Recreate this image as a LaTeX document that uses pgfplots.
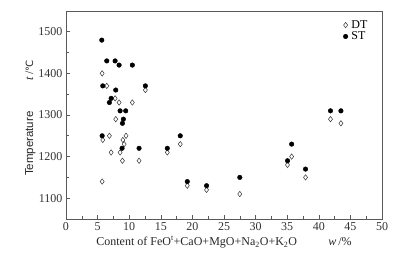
\documentclass[border=0pt]{standalone}
\usepackage{fontspec}
\setmainfont{Liberation Serif}
\setsansfont{Liberation Sans}
\newfontfamily\dejavu{DejaVu Sans}
\usepackage{pgfplots}
\pgfplotsset{compat=1.18}
\begin{document}
\begin{tikzpicture}
\begin{axis}[
  scale only axis,
  width=316pt, height=208pt,
  xmin=0, xmax=50, ymin=1050, ymax=1550,
  xtick={0,5,...,50}, ytick={1100,1200,...,1500},
  minor x tick num=1, minor y tick num=1,
  tick align=inside, xtick pos=left, ytick pos=left,
  major tick length=4pt, minor tick length=2.5pt,
  axis line style={gray!70!black, line width=0.6pt},
  every tick/.style={gray!70!black, line width=0.6pt},
  /pgf/number format/assume math mode=true,
  /pgf/number format/1000 sep={},
  tick label style={font=\fontsize{12}{14}\selectfont, text=black!80},
  label style={font=\fontsize{12}{14}\selectfont, text=black!85},
  xlabel={Content of FeO\textsuperscript{t}+CaO+MgO+Na\textsubscript{2}O+K\textsubscript{2}O\hspace{2.6em}\textit{w}\,/\%},
  ylabel={{\sffamily\fontsize{11.5}{13}\selectfont Temperature}\hspace{2.6em}\textit{t}\,/{\dejavu\fontsize{10}{11}\selectfont ℃}},
  xlabel style={yshift=1pt},
  ylabel style={yshift=-4pt, xshift=-3pt},
  legend style={draw=none, fill=none, at={(0.975,0.975)}, anchor=north east, font=\fontsize{12}{14}\selectfont, row sep=-2pt, nodes={inner xsep=3.5pt}},
  legend cell align=left,
]
\addplot[only marks, mark=diamond, mark size=2.7pt, mark options={draw=black!80, line width=0.5pt, fill=white}] coordinates {
(5.72,1400) (6.45,1370) (7.77,1340) (8.40,1330) (10.50,1330) (12.56,1360)
(7.87,1290) (5.82,1240) (6.87,1250) (7.14,1210) (9.50,1250) (9.00,1240)
(9.20,1230) (8.56,1210) (8.93,1190) (11.56,1190) (5.72,1140) (16.03,1210)
(18.08,1230) (19.19,1130) (22.24,1120) (27.5,1110) (35.05,1180) (35.7,1200)
(37.9,1150) (41.85,1290) (43.5,1280)
};
\addlegendentry{DT}
\addplot[only marks, mark=*, mark size=2.3pt, mark options={draw=black, fill=black}] coordinates {
(5.66,1480) (6.45,1430) (7.77,1430) (8.40,1420) (10.50,1420) (5.82,1370)
(7.87,1360) (7.14,1340) (6.87,1330) (8.56,1310) (9.45,1310) (9.08,1290)
(8.93,1280) (12.56,1370) (5.72,1250) (11.56,1220) (8.87,1220) (16.03,1220)
(18.08,1250) (19.19,1140) (22.24,1130) (27.5,1150) (35.05,1190) (35.7,1230)
(37.9,1170) (41.85,1310) (43.5,1310)
};
\addlegendentry{ST}
\end{axis}
\pgfresetboundingbox
\path[use as bounding box] ([xshift=-66pt,yshift=-39pt]current axis.south west) rectangle ([xshift=16pt,yshift=11pt]current axis.north east);
\end{tikzpicture}
\end{document}
